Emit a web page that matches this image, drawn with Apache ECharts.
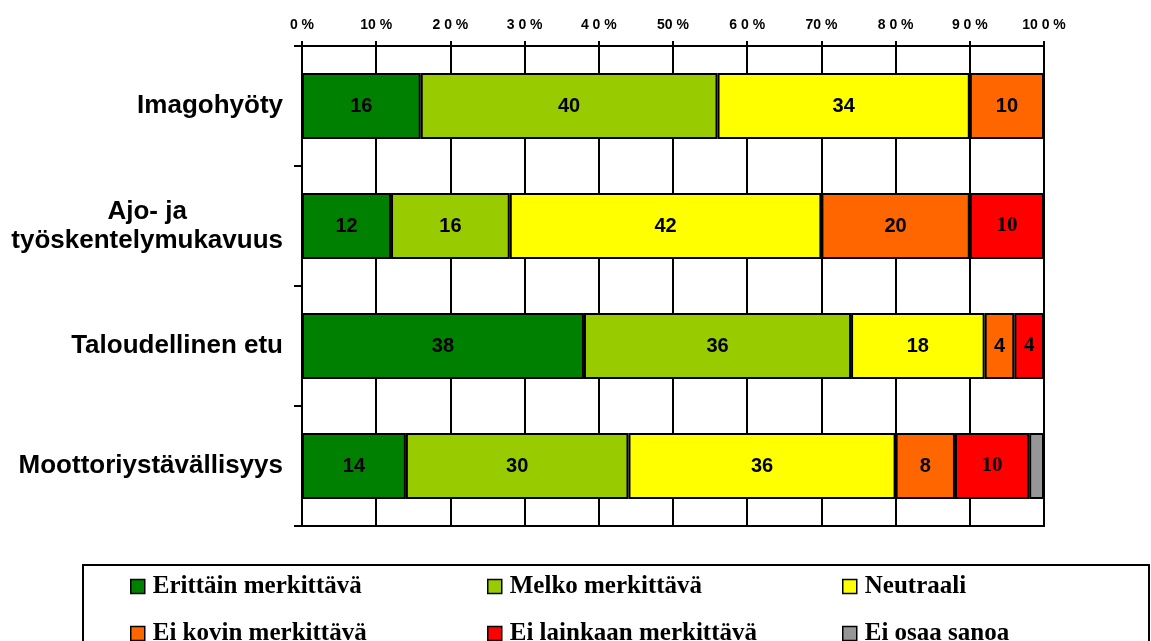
<!DOCTYPE html>
<html>
<head>
<meta charset="utf-8">
<script src="https://cdn.jsdelivr.net/npm/echarts@6/dist/echarts.min.js"></script>
<style>
html, body { margin: 0; padding: 0; background: #fff; }
#chart { width: 1151px; height: 641px; }
</style>
</head>
<body>
<div id="chart"></div>
<script>
// categories, top to bottom
const categories = ['Imagohyöty', 'Ajo- ja\ntyöskentelymukavuus', 'Taloudellinen etu', 'Moottoriystävällisyys']

const seriesNames = ['Erittäin merkittävä', 'Melko merkittävä', 'Neutraali', 'Ei kovin merkittävä', 'Ei lainkaan merkittävä', 'Ei osaa sanoa']
const erittain = [16, 12, 38, 14]
const melko = [40, 16, 36, 30]
const neutraali = [34, 42, 18, 36]
const eiKovin = [10, 20, 4, 8]
const eiLainkaan = [0, 10, 4, 10]
const eiOsaa = [0, 0, 0, 2]

const tickLabels = ['0 %', '10 %', '2 0 %', '3 0 %', '4 0 %', '50 %', '6 0 %', '70 %', '8 0 %', '9 0 %', '10 0 %']

const COLORS = ['#008000', '#99CC00', '#FFFF00', '#FF6600', '#FF0000', '#969696']

const SANS = 'Liberation Sans, Arial, sans-serif'
const SERIF = 'Liberation Serif, Times New Roman, serif'

let values = [erittain, melko, neutraali, eiKovin, eiLainkaan, eiOsaa]

let series = values.map((vals, i) => {
  let serif = i === 4
  return {
    name: seriesNames[i],
    type: 'bar',
    stack: 'total',
    barWidth: 66,
    data: vals.map(v => v === 0 ? '-' : v),
    itemStyle: {
      color: COLORS[i],
      borderColor: '#000',
      borderWidth: 2
    },
    label: {
      show: i !== 5,
      position: 'inside',
      color: '#000',
      fontFamily: serif ? SERIF : SANS,
      fontWeight: 'bold',
      fontSize: serif ? 21 : 20
    },
    emphasis: { disabled: true }
  }
})

// legend: 3 columns x 2 rows, one small legend per item
const legendLeft = [130, 487, 842]
const legendTop = [574, 621]
let legends = seriesNames.map((name, i) => ({
  left: legendLeft[i % 3],
  top: legendTop[Math.floor(i / 3)],
  padding: 0,
  itemWidth: 14,
  itemHeight: 14,
  icon: 'rect',
  selectedMode: false,
  data: [name],
  itemStyle: { borderColor: '#000', borderWidth: 1.5 },
  textStyle: {
    color: '#000',
    fontFamily: SERIF,
    fontWeight: 'bold',
    fontSize: 25,
    lineHeight: 25,
    padding: [0, 0, 0, 3]
  }
}))

let chart = echarts.init(document.getElementById('chart'))
chart.setOption({
  animation: false,
  grid: {
    left: 302,
    right: 107,
    top: 46,
    bottom: 115,
    show: true,
    borderColor: '#000',
    borderWidth: 2,
    backgroundColor: 'transparent'
  },
  legend: legends,
  graphic: [{
    type: 'rect',
    shape: { x: 83, y: 565, width: 1066, height: 200 },
    style: { fill: 'none', stroke: '#000', lineWidth: 2 },
    silent: true
  }],
  xAxis: {
    type: 'value',
    position: 'top',
    min: 0,
    max: 100,
    interval: 10,
    axisLine: { show: true, lineStyle: { color: '#000', width: 2 } },
    axisTick: { show: true, length: 5, lineStyle: { color: '#000', width: 2 } },
    splitLine: { show: true, lineStyle: { color: '#000', width: 2 } },
    axisLabel: {
      margin: 14,
      color: '#000',
      fontFamily: SANS,
      fontWeight: 'bold',
      fontSize: 14,
      formatter: v => tickLabels[Math.round(v / 10)]
    }
  },
  yAxis: {
    type: 'category',
    inverse: true,
    data: categories,
    axisLine: { show: true, lineStyle: { color: '#000', width: 2 } },
    axisTick: { show: true, length: 8, lineStyle: { color: '#000', width: 2 } },
    splitLine: { show: false },
    axisLabel: {
      margin: 19,
      color: '#000',
      fontFamily: SANS,
      fontWeight: 'bold',
      fontSize: 26,
      lineHeight: 29,
      formatter: v => v.split('\n').map(s => '{c|' + s + '}').join('\n'),
      rich: {
        c: {
          align: 'center',
          color: '#000',
          fontFamily: SANS,
          fontWeight: 'bold',
          fontSize: 26,
          lineHeight: 29
        }
      }
    }
  },
  series: series
})
</script>
</body>
</html>
